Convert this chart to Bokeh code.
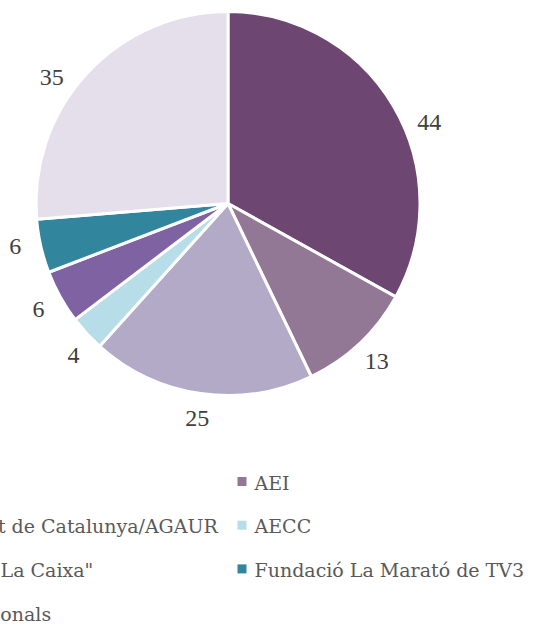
import math
from bokeh.plotting import figure
from bokeh.models import ColumnDataSource, Range1d
from bokeh.core.properties import value
from bokeh.embed import file_html
from bokeh.resources import INLINE

# ---- data ----
categories = ["ISCIII", "AEI", "Generalitat de Catalunya/AGAUR", "AECC",
              'Fundació "La Caixa"', "Fundació La Marató de TV3", "Altres nacionals"]
values = [44, 13, 25, 4, 6, 6, 35]
colors = ["#6d4671", "#937896", "#b3aac8", "#b7dde8", "#7f62a1", "#31859c", "#e5dfec"]
label_nudge_deg = [-8.5, 0, 0, 2, 0, -1.5, 7]

# ---- layout (pixels) ----
OFF = 8                      # figure origin sits 8px left/above the page origin
W, H = 546, 636
def px(x):
    return x + OFF
def py(y):
    return H - (y + OFF)

CX, CY, R = px(227.5), py(203), 192
LABEL_R = 217

total = float(sum(values))
starts, ends, mids = [], [], []
cum = 0.0
for v in values:
    a0 = math.pi / 2 - 2 * math.pi * cum / total
    cum += v
    a1 = math.pi / 2 - 2 * math.pi * cum / total
    starts.append(a0)
    ends.append(a1)
    mids.append((a0 + a1) / 2)

src = ColumnDataSource(dict(start=starts, end=ends, color=colors, cat=categories, val=values))

p = figure(width=W, height=H, output_backend="svg", toolbar_location=None,
           x_range=Range1d(0, W), y_range=Range1d(0, H),
           min_border=0, margin=(-8, 0, 0, -8))
p.axis.visible = False
p.grid.visible = False
p.outline_line_color = None
p.background_fill_color = "white"
p.border_fill_color = "white"

p.wedge(x=CX, y=CY, radius=R, start_angle="start", end_angle="end", direction="clock",
        fill_color="color", line_color="white", line_width=3, source=src)

lx, ly, lt = [], [], []
for m, n, v in zip(mids, label_nudge_deg, values):
    a = m + math.radians(n)
    lx.append(CX + LABEL_R * math.cos(a))
    ly.append(CY + LABEL_R * math.sin(a))
    lt.append(str(v))
p.text(x=lx, y=ly, text=lt, text_align="center", text_baseline="middle",
       text_font=value("Liberation Serif"), text_font_size="24px", text_color="#404040")

# ---- legend (2 columns) ----
col_text_x = [-104, 254]
row0_page, row_step = 481, 43.7
mx, my, tx, ty = [], [], [], []
for i, c in enumerate(categories):
    row, col = divmod(i, 2)
    yy = py(row0_page + row * row_step)
    mx.append(px(col_text_x[col] - 12.5))
    my.append(yy)
    tx.append(px(col_text_x[col]))
    ty.append(yy - 1)
p.scatter(x=mx, y=my, marker="square", size=9, fill_color=colors, line_color=None)
p.text(x=tx, y=ty, text=categories, text_align="left", text_baseline="middle",
       text_font=value("DejaVu Serif"), text_font_size="19px", text_color="#595959")

open("out.html", "w").write(file_html(p, INLINE))
